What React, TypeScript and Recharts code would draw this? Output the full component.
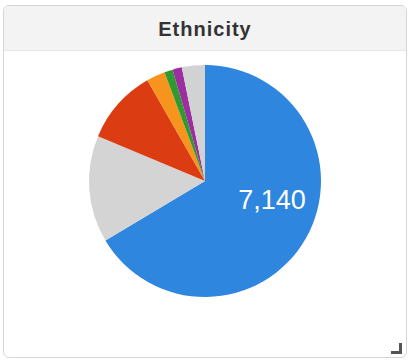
import React from 'react';
import { PieChart, Pie, Cell } from 'recharts';

const groups = ['White', 'Asian', 'Hispanic', 'Black', 'Mixed', 'Native', 'Other'];
const counts = [7140, 1600, 1118, 280, 125, 140, 345];
const colors = ['#2e86de', '#d4d4d4', '#dc3c12', '#f7941d', '#2f9a2f', '#9b2fa0', '#d2d2d2'];

const data = groups.map((name, i) => ({ name, value: counts[i] }));

const RAD = Math.PI / 180;

const renderLabel = (props: any) => {
  const { cx, cy, midAngle, outerRadius, index, value } = props;
  if (index !== 0) return null;
  const a = midAngle + 14;
  const r = outerRadius * 0.6;
  const x = cx + r * Math.cos(-a * RAD);
  const y = cy + r * Math.sin(-a * RAD);
  return (
    <text
      x={x}
      y={y}
      fill="#ffffff"
      textAnchor="middle"
      dominantBaseline="central"
      style={{ fontFamily: '"Liberation Sans", Arial, sans-serif', fontSize: 27 }}
    >
      {value.toLocaleString('en-US')}
    </text>
  );
};

const App = () => {
  return (
    <div style={{ position: 'fixed', left: 0, top: 0, width: 411, height: 361, background: '#fff' }}>
      <div
        style={{
          position: 'absolute',
          left: 3,
          top: 5,
          width: 402,
          height: 351,
          border: '1px solid #d6d6d6',
          borderRadius: 6,
          overflow: 'hidden',
        }}
      >
        <div
          style={{
            height: 44,
            background: '#f3f3f3',
            borderBottom: '1px solid #e8e8e8',
            textAlign: 'center',
            lineHeight: '46px',
            fontFamily: '"Liberation Sans", Arial, sans-serif',
            fontWeight: 'bold',
            fontSize: 20,
            letterSpacing: 1,
            color: '#333',
          }}
        >
          Ethnicity
        </div>
        <div
          style={{
            position: 'absolute',
            right: 4,
            bottom: 3,
            width: 8,
            height: 8,
            borderRight: '3px solid #555',
            borderBottom: '3px solid #555',
          }}
        />
      </div>
      <div style={{ position: 'absolute', left: 0, top: 0 }}>
        <PieChart width={411} height={361} margin={{ top: 0, right: 0, bottom: 0, left: 0 }}>
          <Pie
            data={data}
            dataKey="value"
            cx={205}
            cy={181}
            outerRadius={116}
            startAngle={90}
            endAngle={-270}
            stroke="none"
            label={renderLabel}
            labelLine={false}
            isAnimationActive={false}
          >
            {data.map((d, i) => (
              <Cell key={d.name} fill={colors[i]} />
            ))}
          </Pie>
        </PieChart>
      </div>
    </div>
  );
};

export default App;
